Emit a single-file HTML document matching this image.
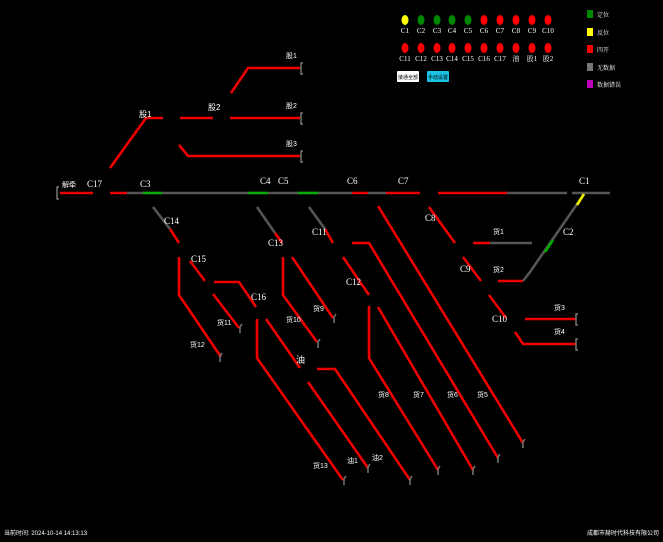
<!DOCTYPE html>
<html><head><meta charset="utf-8"><style>
html,body{margin:0;padding:0;background:#000;width:663px;height:542px;overflow:hidden}
svg{display:block}
text{font-family:"Liberation Serif","Noto Serif CJK SC",serif;fill:#fff}
.s{font-family:"Liberation Sans","Noto Sans CJK SC",sans-serif}
</style></head><body>
<svg width="663" height="542" viewBox="0 0 663 542" xmlns="http://www.w3.org/2000/svg">
<g fill="none" stroke-width="2.6" stroke-linecap="butt">
<!-- main line -->
<g stroke="#e00">
<path d="M60 193H93M110 193H127M352 193H368M386 193H420M438 193H507"/>
</g>
<g stroke="#555">
<path d="M127 193H352M368 193H386M507 193H567M572 193H610"/>
</g>
<g stroke="#0a0"><path d="M143 193H162M248 193H268M298 193H318"/></g>
<!-- upper branch -->
<g stroke="#e00">
<path d="M110 168L146 118H163M180 118H213M230 118H300"/>
<path d="M231 93L248 68H300"/>
<path d="M179 145L188 156H300"/>
</g>
<!-- C14 -->
<path stroke="#555" d="M153 207L170 229"/>
<g stroke="#e00">
<path d="M170 229L179 243"/>
<path d="M179 257V295L221 357"/>
<path d="M190 261L205 281"/>
<path d="M214 282H239L256 307"/>
<path d="M213 294L239 328"/>
<!-- C16 -->
<path d="M257 319V358L343 480"/>
<path d="M266 319L300 368"/>
<path d="M308 382L368 468"/>
<path d="M317 369H335L410 480"/>
</g>
<!-- C13 -->
<path stroke="#555" d="M257 207L275 233"/>
<g stroke="#e00">
<path d="M275 233L282 243"/>
<path d="M283 257V295L317 342"/>
<path d="M292 257L333 318"/>
</g>
<!-- C11 -->
<path stroke="#555" d="M309 207L325 229"/>
<g stroke="#e00">
<path d="M325 229L333 243"/>
<path d="M352 243H369L498 458"/>
<path d="M343 257L369 295"/>
<path d="M369 306V358L438 470"/>
<path d="M378 307L473 470"/>
<path d="M378 206L523 443"/>
<!-- C8 -->
<path d="M429 207L455 243"/>
<path d="M473 243H490"/>
<path d="M463 257L481 281"/>
<path d="M498 281H523"/>
<path d="M489 295L506 318"/>
<path d="M525 319H576"/>
<path d="M515 332L523 344H576"/>
</g>
<path stroke="#555" d="M490 243H532M523 281L530 272L584 194"/>
<path stroke="#0a0" d="M553 240L545 252"/>
<path stroke="#ee0" d="M584 194L577 205"/>
</g>
<!-- brackets -->
<g fill="none" stroke="#777" stroke-width="1.5">
<path d="M59 187h-2v12h2"/>
<path d="M303 63h-2v11h2M303 113h-2v11h2M303 151h-2v11h2"/>
<path d="M578 314h-2v11h2M578 339h-2v11h2"/>
<path d="M222 353l-2 3v6M242 324l-2 3v6M320 339l-2 3v6M336 314l-2 3v6"/>
<path d="M346 476l-2 3v6M370 464l-2 3v6M412 476l-2 3v6M440 466l-2 3v6M475 466l-2 3v6M500 454l-2 3v6M525 439l-2 3v6"/>
</g>
<g font-size="9">
<text x="62" y="187" font-size="7" class="s">解牵</text>
<text x="87" y="187">C17</text>
<text x="140" y="187">C3</text>
<text x="260" y="184">C4</text>
<text x="278" y="184">C5</text>
<text x="347" y="184">C6</text>
<text x="398" y="184">C7</text>
<text x="579" y="184">C1</text>
<text x="139" y="117" font-size="8" class="s">股1</text>
<text x="208" y="110" font-size="8" class="s">股2</text>
<text x="286" y="58" font-size="7" class="s">股1</text>
<text x="286" y="108" font-size="7" class="s">股2</text>
<text x="286" y="146" font-size="7" class="s">股3</text>
<text x="164" y="224">C14</text>
<text x="191" y="262">C15</text>
<text x="251" y="300">C16</text>
<text x="268" y="246">C13</text>
<text x="312" y="235">C11</text>
<text x="346" y="285">C12</text>
<text x="425" y="221">C8</text>
<text x="460" y="272">C9</text>
<text x="492" y="322">C10</text>
<text x="563" y="235">C2</text>
</g>
<g font-size="7" class="s">
<text x="217" y="325" class="s">货11</text>
<text x="190" y="347" class="s">货12</text>
<text x="286" y="322" class="s">货10</text>
<text x="313" y="311" class="s">货9</text>
<text x="296" y="363" font-size="9" class="s">油</text>
<text x="313" y="468" class="s">货13</text>
<text x="347" y="463" class="s">油1</text>
<text x="372" y="460" class="s">油2</text>
<text x="378" y="397" class="s">货8</text>
<text x="413" y="397" class="s">货7</text>
<text x="447" y="397" class="s">货6</text>
<text x="477" y="397" class="s">货5</text>
<text x="493" y="234" class="s">货1</text>
<text x="493" y="272" class="s">货2</text>
<text x="554" y="310" class="s">货3</text>
<text x="554" y="334" class="s">货4</text>
</g>
<!-- legend circles -->
<g>
<ellipse cx="405" cy="20" rx="3.5" ry="5" fill="#ff0"/>
<ellipse cx="421" cy="20" rx="3.5" ry="5" fill="#080"/>
<ellipse cx="437" cy="20" rx="3.5" ry="5" fill="#080"/>
<ellipse cx="452" cy="20" rx="3.5" ry="5" fill="#080"/>
<ellipse cx="468" cy="20" rx="3.5" ry="5" fill="#080"/>
<ellipse cx="484" cy="20" rx="3.5" ry="5" fill="#f00"/>
<ellipse cx="500" cy="20" rx="3.5" ry="5" fill="#f00"/>
<ellipse cx="516" cy="20" rx="3.5" ry="5" fill="#f00"/>
<ellipse cx="532" cy="20" rx="3.5" ry="5" fill="#f00"/>
<ellipse cx="548" cy="20" rx="3.5" ry="5" fill="#f00"/>
<g fill="#f00">
<ellipse cx="405" cy="48" rx="3.5" ry="5"/><ellipse cx="421" cy="48" rx="3.5" ry="5"/><ellipse cx="437" cy="48" rx="3.5" ry="5"/><ellipse cx="452" cy="48" rx="3.5" ry="5"/><ellipse cx="468" cy="48" rx="3.5" ry="5"/><ellipse cx="484" cy="48" rx="3.5" ry="5"/><ellipse cx="500" cy="48" rx="3.5" ry="5"/><ellipse cx="516" cy="48" rx="3.5" ry="5"/><ellipse cx="532" cy="48" rx="3.5" ry="5"/><ellipse cx="548" cy="48" rx="3.5" ry="5"/>
</g>
</g>
<g font-size="7" class="s" text-anchor="middle">
<text x="405" y="33">C1</text><text x="421" y="33">C2</text><text x="437" y="33">C3</text><text x="452" y="33">C4</text><text x="468" y="33">C5</text><text x="484" y="33">C6</text><text x="500" y="33">C7</text><text x="516" y="33">C8</text><text x="532" y="33">C9</text><text x="548" y="33">C10</text>
<text x="405" y="61">C11</text><text x="421" y="61">C12</text><text x="437" y="61">C13</text><text x="452" y="61">C14</text><text x="468" y="61">C15</text><text x="484" y="61">C16</text><text x="500" y="61">C17</text><text x="516" y="61">油</text><text x="532" y="61">股1</text><text x="548" y="61">股2</text>
</g>
<rect x="397" y="71" width="22" height="11" rx="1" fill="#fff"/>
<rect x="427" y="71" width="22" height="11" rx="1" fill="#1bc2e6"/>
<text x="408" y="79" font-size="5" class="s" text-anchor="middle" style="fill:#000">接通全部</text>
<text x="438" y="79" font-size="5" class="s" text-anchor="middle" style="fill:#000">手动设置</text>
<rect x="587" y="10" width="6" height="8" fill="#080"/>
<rect x="587" y="28" width="6" height="8" fill="#ff0"/>
<rect x="587" y="45" width="6" height="8" fill="#f00"/>
<rect x="587" y="63" width="6" height="8" fill="#777"/>
<rect x="587" y="80" width="6" height="8" fill="#b0b"/>
<g font-size="6" class="s">
<text x="597" y="17">定位</text><text x="597" y="35">反位</text><text x="597" y="52">四开</text><text x="597" y="70">无数据</text><text x="597" y="87">数据错误</text>
</g>
<text x="4" y="535" font-size="6" class="s">当前时间: 2024-10-14 14:13:13</text>
<text x="659" y="535" font-size="6" class="s" text-anchor="end">成都市赫时代科技有限公司</text>
</svg>
</body></html>
